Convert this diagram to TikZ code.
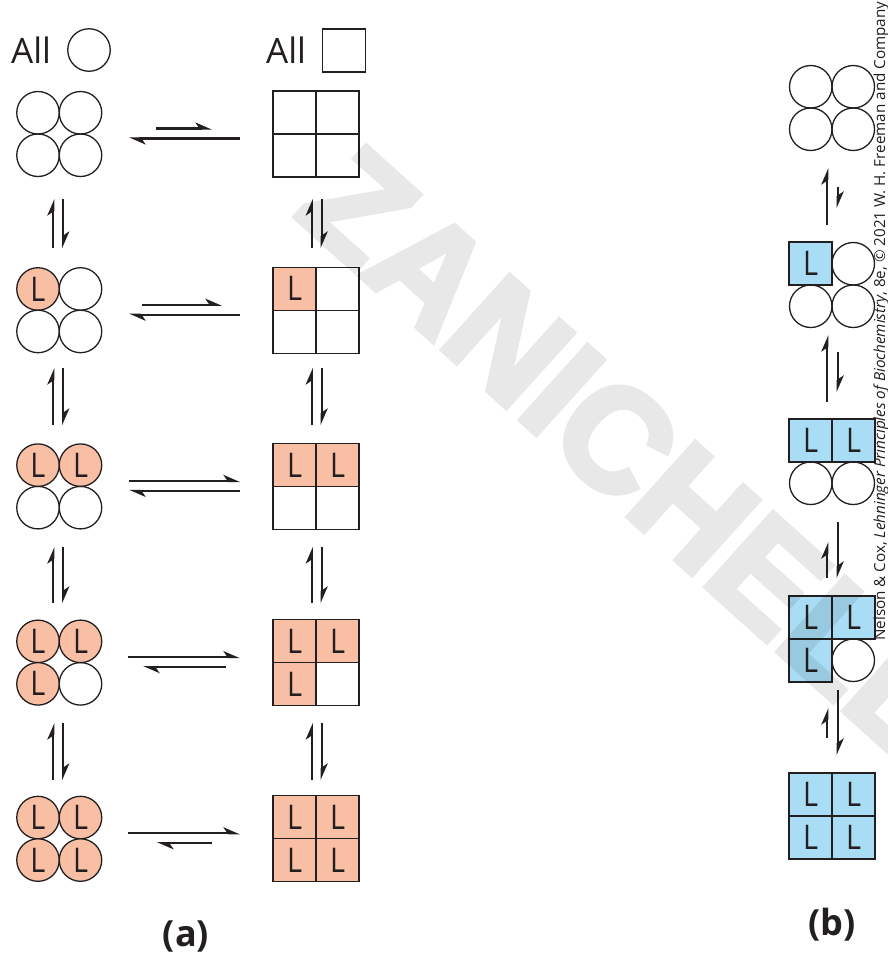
\documentclass[tikz,border=0pt]{standalone}
\usepackage{fontspec}
\usepackage{graphicx}
\setmainfont{Open Sans}
\newfontfamily\wmfont[BoldFeatures={FakeBold=4}]{Liberation Sans}
\usetikzlibrary{arrows.meta,calc}
\definecolor{salmon}{HTML}{F8BFA5}
\definecolor{sky}{HTML}{A9DDF5}
\definecolor{ink}{HTML}{231F20}
\newcommand\Lg{\scalebox{0.85}[1]{L}}
\begin{document}
\begin{tikzpicture}[x=1pt,y=-1pt,
  sub/.style={circle,draw=ink,line width=1.3pt,minimum size=42.5pt,inner sep=0pt,
    font=\fontsize{34}{34}\selectfont,text=ink},
  cellbox/.style={rectangle,draw=ink,line width=1.3pt,minimum size=43pt,inner sep=0pt,
    font=\fontsize{34}{34}\selectfont,text=ink},
  eq/.style={draw=ink,line width=2.2pt,-{Stealth[harpoon,length=14pt,width=12pt,inset=4pt]}},
  lbl/.style={inner sep=0pt,text=ink,font=\fontsize{35}{35}\selectfont},
  panel/.style={inner sep=0pt,text=ink,font=\bfseries\fontsize{36}{36}\selectfont}]
\fill[white] (0,0) rectangle (887,967);
\useasboundingbox (0,0) rectangle (887,967);
\clip (0,0) rectangle (887,967);

% legend
\node[lbl,anchor=base west] (allA) at (11,63) {All};
\node[sub] (legc) at (89,50) {};
\node[lbl,anchor=base west] (allS) at (266,63) {All};
\node[cellbox] (legs) at (344.3,50.5) {};

% panel (a): circles and squares
\foreach \r in {1,...,5}{
  \pgfmathsetmacro{\yc}{134+176.2*(\r-1)}
  \foreach \k/\sx/\sy/\nm in {1/-1/-1/tl,2/1/-1/tr,3/-1/1/bl,4/1/1/br}{
    \ifnum\k<\r
      \node[sub,fill=salmon] (A\r\nm) at (59.25+21.25*\sx,\yc+21.25*\sy) {\Lg};
      \node[cellbox,fill=salmon] (S\r\nm) at (316+21.5*\sx,\yc+21.5*\sy) {\Lg};
    \else
      \node[sub] (A\r\nm) at (59.25+21.25*\sx,\yc+21.25*\sy) {};
      \node[cellbox] (S\r\nm) at (316+21.5*\sx,\yc+21.5*\sy) {};
    \fi
  }
}

% panel (b)
\foreach \r in {1,...,5}{
  \pgfmathsetmacro{\yc}{108+177*(\r-1)}
  \foreach \k/\sx/\sy/\nm in {1/-1/-1/tl,2/1/-1/tr,3/-1/1/bl,4/1/1/br}{
    \ifnum\k<\r
      \node[cellbox,fill=sky] (B\r\nm) at (832+21.5*\sx,\yc+21.5*\sy) {\Lg};
    \else
      \node[sub] (B\r\nm) at (832+21.25*\sx,\yc+21.25*\sy) {};
    \fi
  }
}

% horizontal equilibrium arrows
\foreach \r/\fa/\fb/\ra/\rb in {1/156/212/240/129,2/142/222/240/129,3/129/240/240/129,4/128/240/226/143,5/128/240/212/157}{
  \pgfmathsetmacro{\yc}{134+176.2*(\r-1)}
  \coordinate (hf\r s) at (\fa,\yc-5.5);
  \coordinate (hf\r e) at (\fb,\yc-5.5);
  \coordinate (hr\r s) at (\ra,\yc+4.5);
  \coordinate (hr\r e) at (\rb,\yc+4.5);
  \draw[eq] (hf\r s) -- (hf\r e);
  \draw[eq] (hr\r s) -- (hr\r e);
}

% vertical arrows, panel (a)
\foreach \j/\ya/\yb in {1/199/248,2/368/425,3/547/603,4/723/780}{
  \coordinate (au\j s) at (53.3,\yb);  \coordinate (au\j e) at (53.3,\ya);
  \coordinate (ad\j s) at (63.3,\ya);  \coordinate (ad\j e) at (63.3,\yb);
  \coordinate (su\j s) at (311.7,\yb); \coordinate (su\j e) at (311.7,\ya);
  \coordinate (sd\j s) at (321.7,\ya); \coordinate (sd\j e) at (321.7,\yb);
  \draw[eq] (au\j s) -- (au\j e);
  \draw[eq] (ad\j s) -- (ad\j e);
  \draw[eq] (su\j s) -- (su\j e);
  \draw[eq] (sd\j s) -- (sd\j e);
}

% vertical arrows, panel (b)
\foreach \j/\ua/\ub/\da/\db in {1/225/168/187/208,2/402/335/352/392,3/578/542/522/578,4/738/708/690/755}{
  \coordinate (bu\j s) at (827.3,\ua); \coordinate (bu\j e) at (827.3,\ub);
  \coordinate (bd\j s) at (837.7,\da); \coordinate (bd\j e) at (837.7,\db);
  \draw[eq] (bu\j s) -- (bu\j e);
  \draw[eq] (bd\j s) -- (bd\j e);
}

% panel labels
\node[panel] (pa) at (186,936) {(a)};
\node[panel] (pb) at (832,925) {(b)};

% credit line
\node[rotate=90,anchor=base west,inner sep=0pt,text=ink,font=\fontsize{15.2}{15.2}\selectfont] (credit) at (885,641)
  {Nelson \& Cox, \textit{Lehninger Principles of Biochemistry}, 8e, © 2021 W. H. Freeman and Company};

% watermark
\begin{scope}[transparency group,opacity=0.09]
\node[rotate=-42,anchor=base west,inner sep=0pt,text=black,
  font=\wmfont\bfseries\fontsize{145}{145}\selectfont] (wm) at (292,214) {ZANICHELLI};
\end{scope}
\end{tikzpicture}
\end{document}
